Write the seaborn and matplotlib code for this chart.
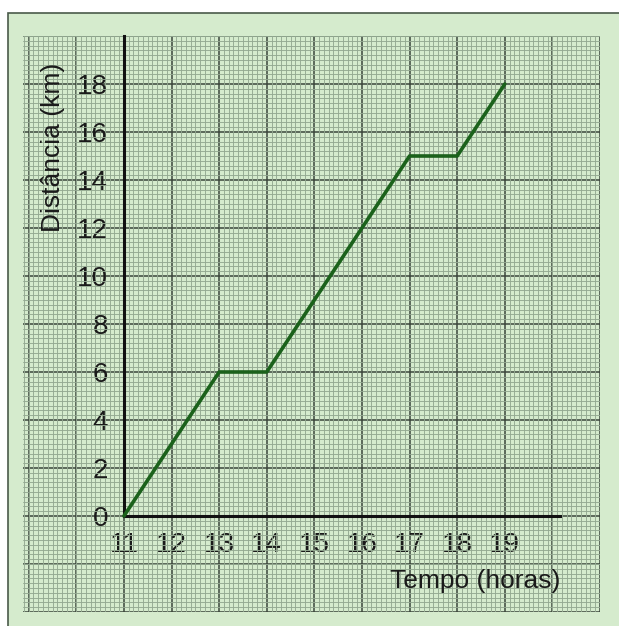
import numpy as np
import pandas as pd
import matplotlib
matplotlib.use('Agg')
import matplotlib.pyplot as plt
import seaborn as sns
from matplotlib.patches import Rectangle
from matplotlib.ticker import MultipleLocator

# dados
tempo = [11, 13, 14, 17, 18, 19]
distancia = [0, 6, 6, 15, 15, 18]
ticks_x = [11, 12, 13, 14, 15, 16, 17, 18, 19]
ticks_y = [0, 2, 4, 6, 8, 10, 12, 14, 16, 18]
rotulo_x = 'Tempo (horas)'
rotulo_y = 'Distância (km)'

dados = pd.DataFrame({'tempo': tempo, 'distancia': distancia})

sns.set_style('white')
plt.rcParams['font.family'] = ['Liberation Sans', 'DejaVu Sans']

verde_fundo = '#d5ebcd'
cor_menor = '#93a991'
cor_maior = '#3b463b'
cor_texto = '#1a1a1a'

W, H = 619, 626
fig = plt.figure(figsize=(W / 100, H / 100), dpi=100)
fig.patch.set_facecolor('white')

# moldura verde externa
fig.patches.append(Rectangle((8 / W, -0.1), 1.2, 1 - 13 / H + 0.1,
                             transform=fig.transFigure, facecolor=verde_fundo,
                             edgecolor='#4a5a4a', linewidth=1.2, zorder=-5))

ax = fig.add_axes([23 / W, (H - 612) / H, 577 / W, 576 / H])
ax.set_zorder(2)
ax.set_facecolor(verde_fundo)
ax.set_xlim(8.88, 21.0)
ax.set_ylim(-4, 20)

# papel milimetrado
ax.xaxis.set_minor_locator(MultipleLocator(0.1))
ax.yaxis.set_minor_locator(MultipleLocator(0.2))
ax.grid(which='minor', color=cor_menor, linewidth=0.65, zorder=0)
ax.tick_params(which='minor', length=0)
for xv in np.arange(9, 21.01, 1):
    ax.axvline(xv, color=cor_maior, linewidth=1.1, zorder=0.5)
for yv in np.arange(-4, 20.01, 2):
    ax.axhline(yv, color=cor_maior, linewidth=1.1, zorder=0.5)

sns.lineplot(data=dados, x='tempo', y='distancia', ax=ax, color='#1b621b',
             linewidth=2.6, zorder=5)

# eixos
for lado in ['top', 'right']:
    ax.spines[lado].set_visible(False)
ax.spines['left'].set_position(('data', 11))
ax.spines['bottom'].set_position(('data', 0))
ax.spines['left'].set_bounds(0, 20)
ax.spines['bottom'].set_bounds(11, 20.15)
for lado in ['left', 'bottom']:
    ax.spines[lado].set_linewidth(2.2)
    ax.spines[lado].set_color('#111111')
    ax.spines[lado].set_zorder(4)

ax.set_xticks(ticks_x)
ax.set_yticks(ticks_y)
ax.tick_params(which='major', direction='inout', length=7, width=1.6,
               colors='#111111', labelsize=20, labelcolor=cor_texto)
ax.tick_params(axis='x', pad=8)
ax.tick_params(axis='y', pad=8)
ax.set_xlabel('')
ax.set_ylabel('')

fig.text(475 / W, 1 - 581 / H, rotulo_x, fontsize=19, color=cor_texto,
         ha='center', va='center', zorder=10)
fig.text(53 / W, 1 - 147 / H, rotulo_y, fontsize=19, color=cor_texto,
         rotation=90, ha='center', va='center', zorder=10)

fig.savefig('out.png', dpi=100)
